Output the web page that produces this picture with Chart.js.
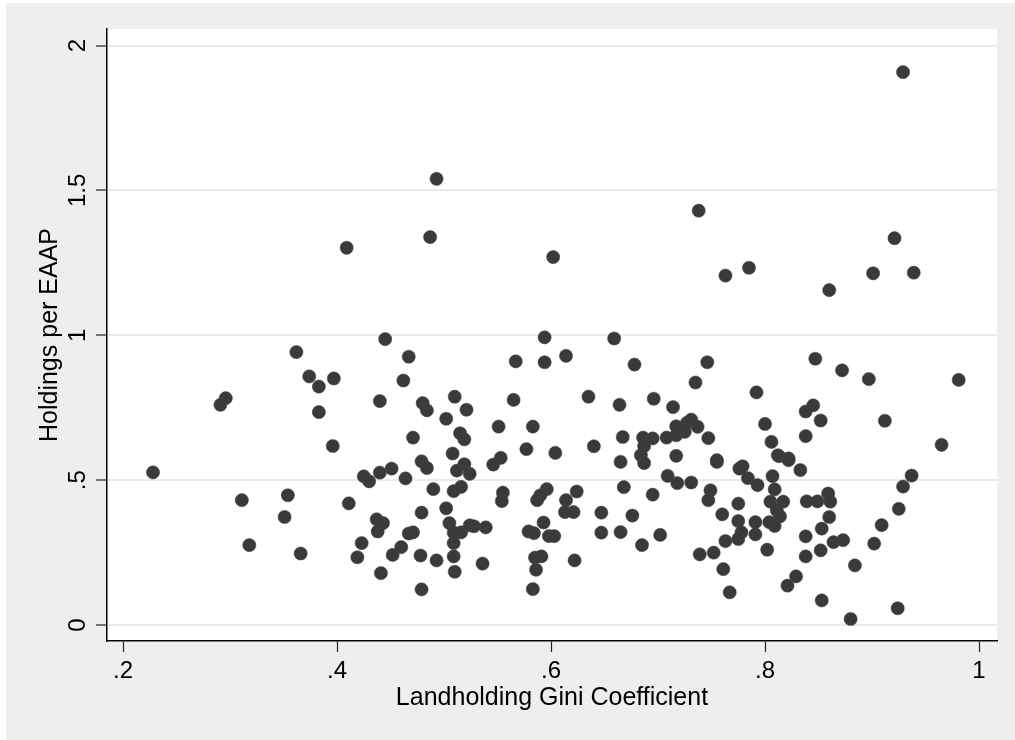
<!DOCTYPE html>
<html>
<head>
<meta charset="utf-8">
<script src="https://cdn.jsdelivr.net/npm/chart.js@4.4.1/dist/chart.umd.min.js"></script>
<style>
  html, body { margin: 0; padding: 0; background: #fff; }
  canvas { display: block; }
</style>
</head>
<body>
<canvas id="chart" width="1015" height="740"></canvas>
<script>
// Landholding Gini coefficient (x) vs holdings per EAAP (y)
const gini = [
  0.493, 0.487, 0.409, 0.738, 0.602, 0.929, 0.921, 0.763, 0.785, 0.860, 0.901, 0.939,
  0.445, 0.362, 0.467, 0.374, 0.397, 0.383, 0.462, 0.296, 0.291, 0.440, 0.480, 0.484,
  0.383, 0.471, 0.396, 0.228, 0.425, 0.430, 0.440, 0.451, 0.464, 0.479, 0.484, 0.490,
  0.311, 0.354, 0.351, 0.411, 0.479, 0.437, 0.443, 0.438, 0.467, 0.471, 0.423, 0.460,
  0.452, 0.419, 0.478, 0.493, 0.318, 0.366, 0.441, 0.479,
  0.594, 0.659, 0.567, 0.594, 0.614, 0.678, 0.746, 0.735, 0.510, 0.565, 0.635, 0.664,
  0.696, 0.714, 0.521, 0.502, 0.551, 0.583, 0.515, 0.519, 0.508, 0.577, 0.604, 0.640,
  0.667, 0.686, 0.695, 0.687, 0.684, 0.687, 0.708, 0.717, 0.717, 0.725, 0.727, 0.731,
  0.737, 0.747, 0.717, 0.665, 0.519, 0.524, 0.512, 0.546, 0.553, 0.709, 0.718, 0.731,
  0.749, 0.747, 0.509, 0.516, 0.555, 0.554, 0.596, 0.590, 0.587, 0.624, 0.614, 0.613,
  0.621, 0.647, 0.668, 0.695, 0.676, 0.502, 0.505, 0.509, 0.516, 0.524, 0.528, 0.539,
  0.509, 0.509, 0.510, 0.536, 0.593, 0.579, 0.584, 0.598, 0.603, 0.647, 0.665, 0.702,
  0.685, 0.585, 0.591, 0.586, 0.622, 0.583, 0.739, 0.752, 0.755, 0.812, 0.822,
  0.847, 0.872, 0.897, 0.981, 0.792, 0.838, 0.845, 0.852, 0.912, 0.800, 0.806, 0.838,
  0.965, 0.755, 0.813, 0.822, 0.776, 0.779, 0.784, 0.793, 0.807, 0.833, 0.937, 0.929,
  0.809, 0.805, 0.817, 0.811, 0.814, 0.809, 0.775, 0.760, 0.775, 0.791, 0.804, 0.791,
  0.778, 0.775, 0.839, 0.849, 0.859, 0.861, 0.860, 0.853, 0.838, 0.864, 0.873, 0.852,
  0.838, 0.802, 0.763, 0.761, 0.767, 0.829, 0.821, 0.853, 0.880, 0.924, 0.884, 0.902,
  0.909, 0.925
];
const holdings = [
  1.540, 1.339, 1.302, 1.430, 1.270, 1.908, 1.335, 1.206, 1.233, 1.156, 1.214, 1.216,
  0.987, 0.942, 0.926, 0.858, 0.851, 0.823, 0.844, 0.783, 0.760, 0.773, 0.766, 0.741,
  0.735, 0.647, 0.618, 0.527, 0.513, 0.496, 0.526, 0.540, 0.506, 0.565, 0.542, 0.469,
  0.431, 0.448, 0.373, 0.420, 0.388, 0.365, 0.352, 0.323, 0.316, 0.320, 0.283, 0.269,
  0.242, 0.234, 0.240, 0.223, 0.276, 0.247, 0.179, 0.123,
  0.993, 0.989, 0.910, 0.907, 0.929, 0.899, 0.907, 0.837, 0.788, 0.777, 0.788, 0.760,
  0.781, 0.752, 0.743, 0.712, 0.685, 0.685, 0.662, 0.641, 0.592, 0.607, 0.594, 0.617,
  0.649, 0.647, 0.644, 0.618, 0.586, 0.559, 0.647, 0.686, 0.655, 0.667, 0.698, 0.709,
  0.684, 0.645, 0.584, 0.563, 0.555, 0.522, 0.533, 0.554, 0.577, 0.515, 0.490, 0.492,
  0.465, 0.431, 0.462, 0.477, 0.457, 0.428, 0.469, 0.448, 0.431, 0.461, 0.431, 0.390,
  0.390, 0.388, 0.476, 0.450, 0.378, 0.403, 0.352, 0.319, 0.320, 0.344, 0.341, 0.337,
  0.283, 0.237, 0.184, 0.212, 0.354, 0.323, 0.317, 0.307, 0.307, 0.319, 0.321, 0.311,
  0.276, 0.233, 0.237, 0.191, 0.223, 0.124, 0.244, 0.250, 0.569, 0.586, 0.575,
  0.919, 0.879, 0.849, 0.846, 0.803, 0.737, 0.758, 0.706, 0.705, 0.694, 0.632, 0.652,
  0.622, 0.563, 0.583, 0.569, 0.540, 0.548, 0.507, 0.483, 0.514, 0.535, 0.516, 0.478,
  0.468, 0.426, 0.426, 0.396, 0.375, 0.342, 0.419, 0.382, 0.359, 0.355, 0.355, 0.313,
  0.320, 0.297, 0.427, 0.427, 0.454, 0.426, 0.373, 0.333, 0.306, 0.286, 0.293, 0.258,
  0.237, 0.260, 0.290, 0.193, 0.113, 0.168, 0.136, 0.085, 0.021, 0.058, 0.206, 0.281,
  0.345, 0.401
];

const xTickVals = [0.2, 0.4, 0.6, 0.8, 1];
const xTickLabels = ['.2', '.4', '.6', '.8', '1'];
const yTickVals = [0, 0.5, 1, 1.5, 2];
const yTickLabels = ['0', '.5', '1', '1.5', '2'];

const FONT = "'Liberation Sans', Arial, Helvetica, sans-serif";

// stata-like backdrop: grey page, white plot region
const backdrop = {
  id: 'backdrop',
  beforeDraw(chart) {
    const { ctx, chartArea: a, width, height } = chart;
    ctx.save();
    ctx.fillStyle = '#ffffff';
    ctx.fillRect(0, 0, width, height);
    ctx.fillStyle = '#eeeeee';
    ctx.fillRect(6, 3, width - 6, height - 3);
    ctx.fillStyle = '#ffffff';
    ctx.fillRect(a.left, a.top, a.right - a.left, a.bottom - a.top);
    ctx.restore();
  }
};

const points = gini.map((g, i) => ({ x: g, y: holdings[i] }));

new Chart(document.getElementById('chart'), {
  type: 'scatter',
  data: {
    datasets: [{
      data: points,
      pointRadius: 6.6,
      pointHoverRadius: 6.6,
      pointBackgroundColor: '#3a3a3a',
      pointBorderColor: '#444444',
      pointBorderWidth: 0.5
    }]
  },
  options: {
    responsive: false,
    animation: false,
    devicePixelRatio: 1,
    layout: { padding: { top: 29, right: 18, left: 0, bottom: 0 } },
    plugins: { legend: { display: false }, tooltip: { enabled: false } },
    scales: {
      x: {
        type: 'linear',
        min: 0.185,
        max: 1.0168,
        afterFit(s) { s.height = 99; },
        afterBuildTicks(s) { s.ticks = xTickVals.map(v => ({ value: v })); },
        border: { display: true, color: '#000', width: 1.5 },
        grid: { drawOnChartArea: false, tickLength: 11, tickColor: '#222', tickWidth: 1.2 },
        ticks: {
          color: '#000',
          padding: 5,
          maxRotation: 0,
          font: { family: FONT, size: 24 },
          callback: (v, i) => xTickLabels[i]
        },
        title: {
          display: true,
          text: 'Landholding Gini Coefficient',
          color: '#000',
          font: { family: FONT, size: 25 },
          padding: { top: 0, bottom: 27 }
        }
      },
      y: {
        type: 'linear',
        min: -0.055,
        max: 2.057,
        afterFit(s) { s.width = 107; },
        afterBuildTicks(s) { s.ticks = yTickVals.map(v => ({ value: v })); },
        border: { display: true, color: '#000', width: 1.5 },
        grid: { color: '#eaeaea', lineWidth: 2, tickLength: 11, tickColor: '#222', tickWidth: 1.2 },
        ticks: {
          color: '#000',
          padding: 1,
          minRotation: 90,
          maxRotation: 90,
          crossAlign: 'center',
          font: { family: FONT, size: 24 },
          callback: (v, i) => yTickLabels[i]
        },
        title: {
          display: true,
          text: 'Holdings per EAAP',
          color: '#000',
          font: { family: FONT, size: 25 },
          padding: { top: 35, bottom: 0 }
        }
      }
    }
  },
  plugins: [backdrop]
});
</script>
</body>
</html>
